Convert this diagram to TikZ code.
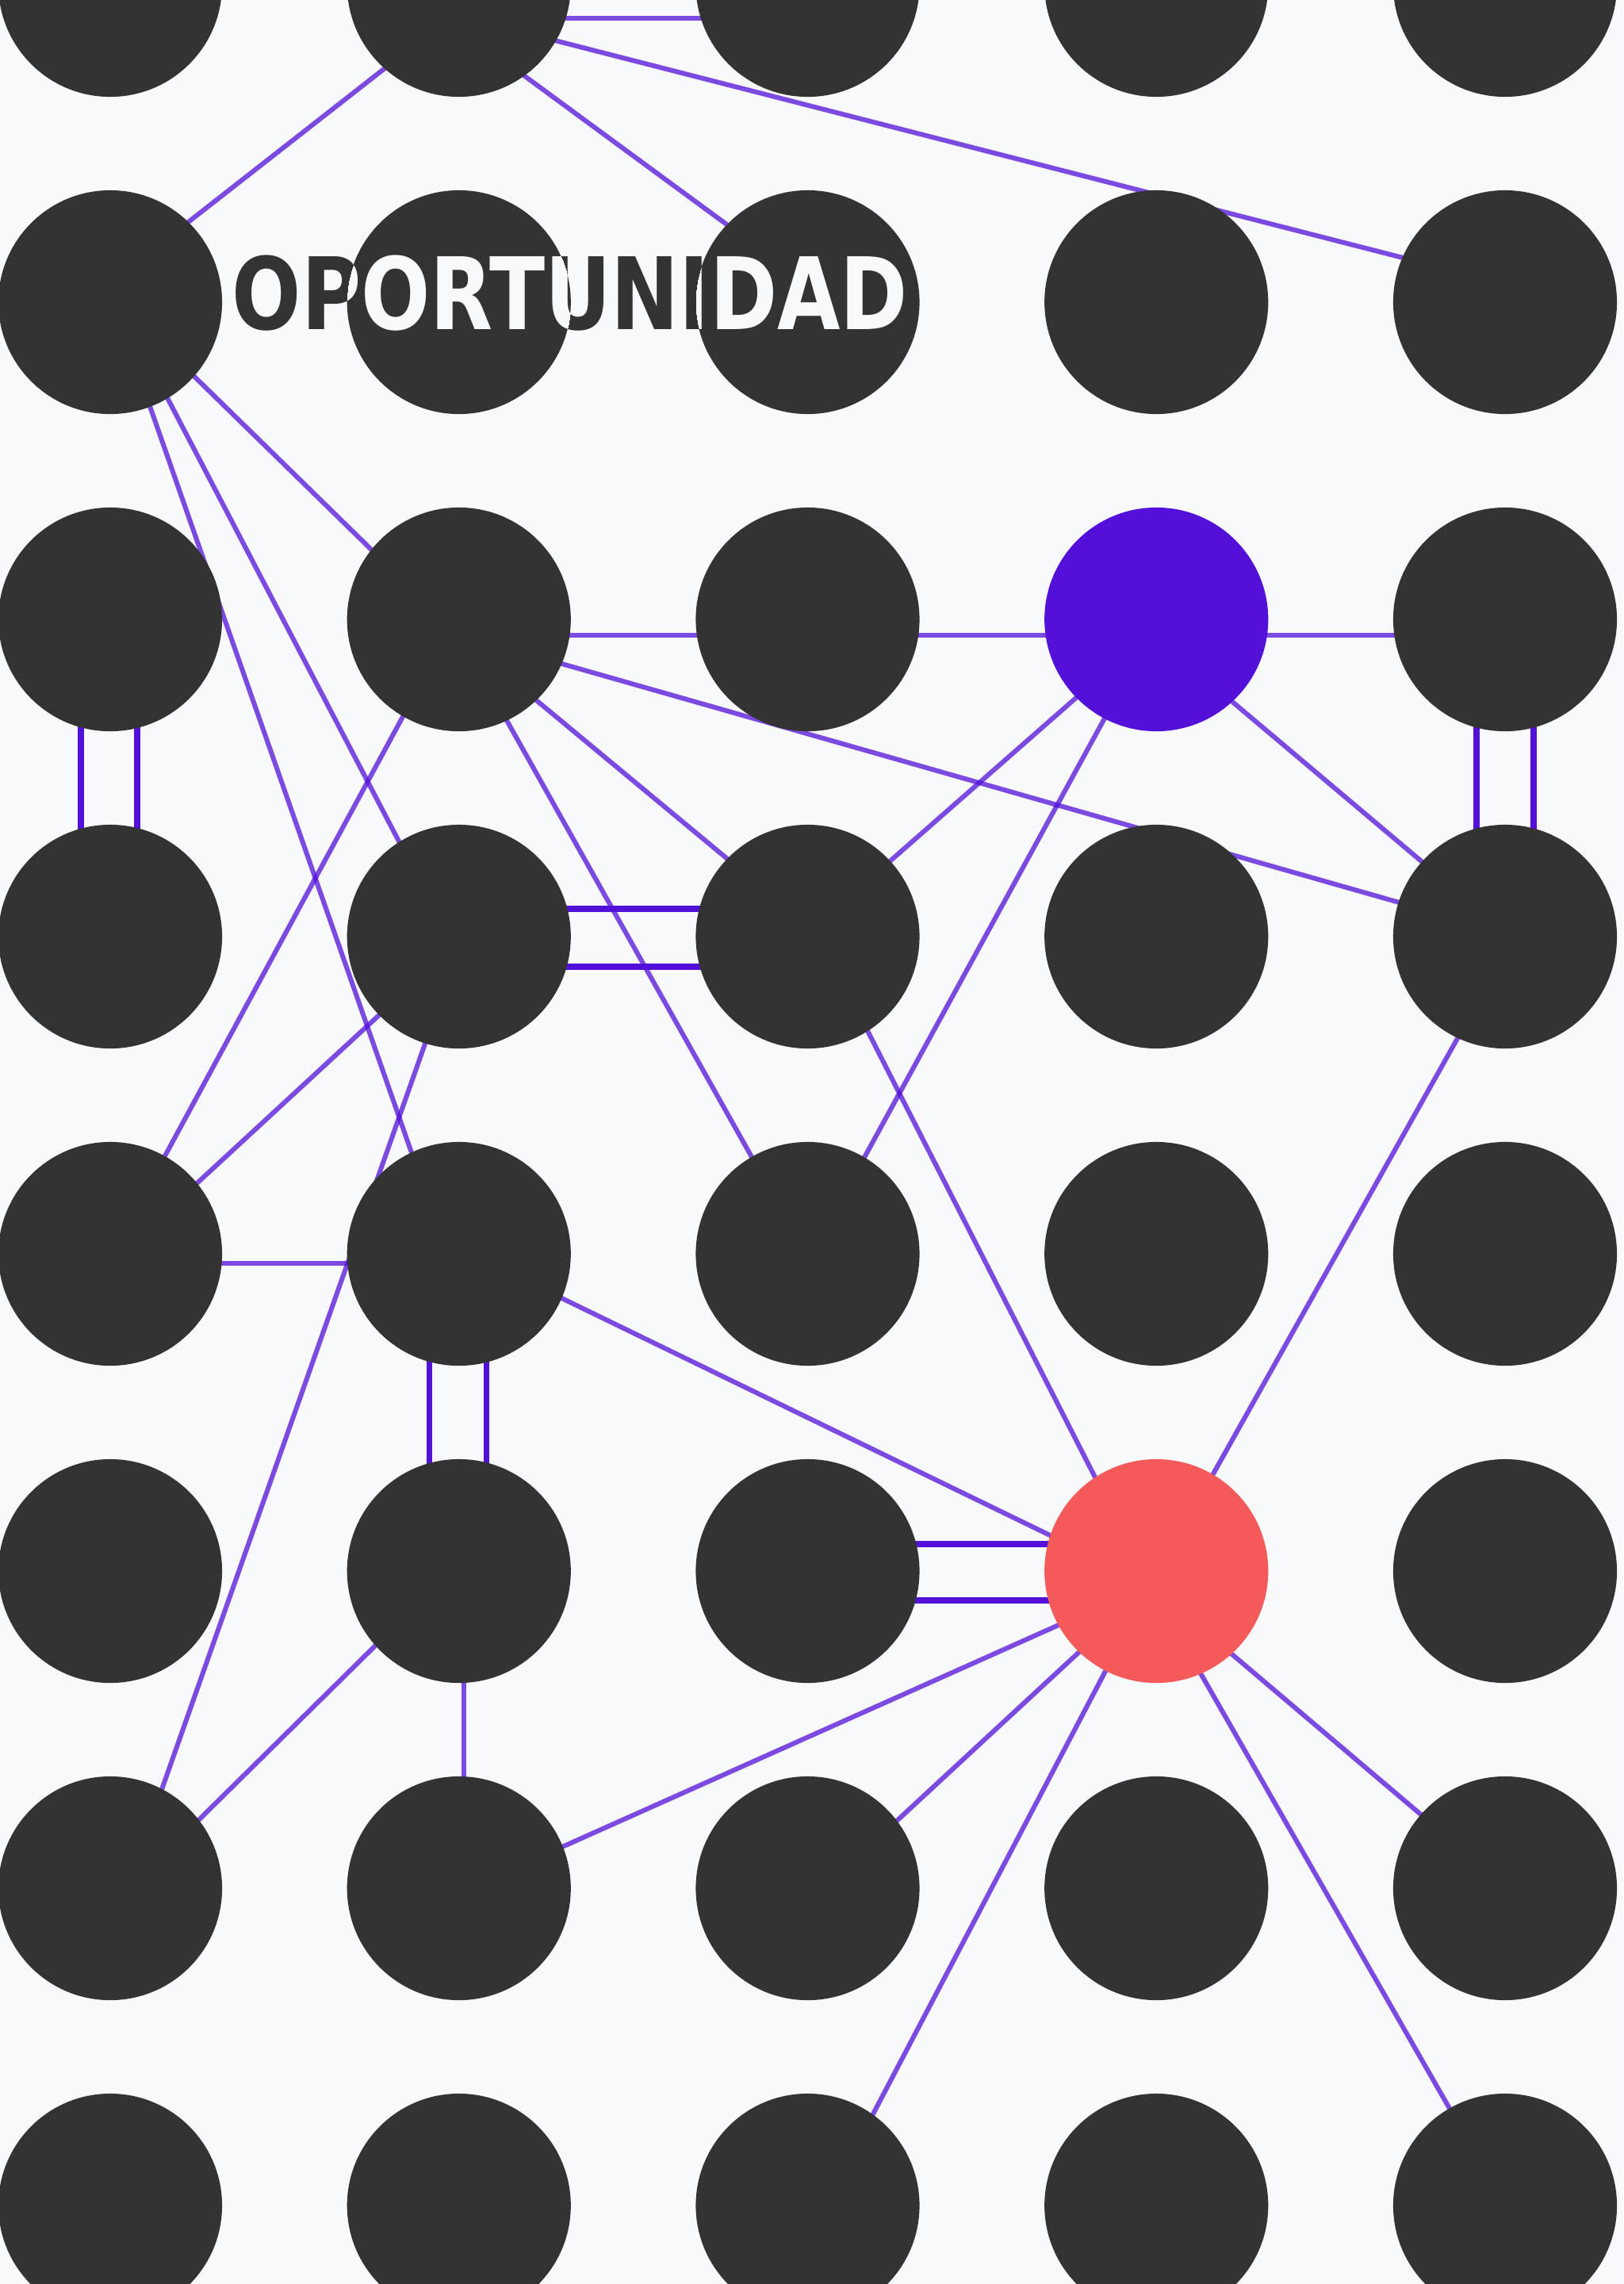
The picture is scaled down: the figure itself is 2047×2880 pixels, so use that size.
\documentclass[tikz,border=0pt]{standalone}
\usepackage{fontspec}
\newfontfamily\titlefont{DejaVu Sans}[FakeStretch=0.815]
\usetikzlibrary{calc}
\definecolor{bgcol}{HTML}{F8F9FA}
\definecolor{dotcol}{HTML}{333333}
\definecolor{linecol}{HTML}{5210D9}
\definecolor{accentblue}{HTML}{5210D9}
\definecolor{accentred}{HTML}{F55A5A}
\pgfdeclarelayer{bg}
\pgfsetlayers{bg,main}
\newcommand\edgeline[5][edge]{\draw[#1] ($(#2)+(#3)$) -- ($(#4)+(#5)$);}
\begin{document}
\begin{tikzpicture}[x=0.01cm,y=-0.01cm,
  dot/.style={circle,minimum size=2.82cm,inner sep=0pt,outer sep=0pt,fill=dotcol,draw=none},
  col23/.style={fill=accentblue},
  col53/.style={fill=accentred},
  edge/.style={draw=linecol,draw opacity=0.75,line width=0.06cm},
  dbl/.style={draw=linecol,line width=0.074cm},
  title/.style={font=\titlefont\bfseries\fontsize{35.85pt}{36pt}\selectfont,anchor=base,inner sep=0pt,outer sep=0pt}]
\useasboundingbox (0,0) rectangle (2047,2880);
\clip (0,0) rectangle (2047,2880);
% nodes
\foreach \rr in {0,...,7}{
  \foreach \cc in {0,...,4}{
    \node[dot,col\rr\cc/.try] (n\rr\cc) at ({139+439.75*\cc},{-19+400*\rr}) {};
  }
}
\begin{pgfonlayer}{bg}
\fill[bgcol] (0,0) rectangle (2047,2880);
% single edges
\edgeline{n01}{0,42}{n02}{0,42}
\edgeline{n01}{0,39}{n14}{0,-23}
\edgeline{n01}{0,32}{n10}{0,-24}
\edgeline{n01}{0,54}{n12}{0,-23}
\edgeline{n10}{0,-10}{n21}{0,20}
\edgeline{n10}{9,0}{n31}{-13,0}
\edgeline{n10}{4,0}{n41}{-15,0}
\edgeline{n21}{0,20}{n22}{0,20}
\edgeline{n21}{0,19}{n34}{0,-5}
\edgeline{n21}{0,21}{n32}{0,-14}
\edgeline{n21}{0,20}{n42}{-2,0}
\edgeline{n21}{0,-8}{n40}{0,4}
\edgeline{n22}{0,20}{n23}{0,20}
\edgeline{n23}{0,20}{n24}{0,20}
\edgeline{n23}{0,10}{n32}{0,-4}
\edgeline{n23}{3,0}{n42}{5,0}
\edgeline{n23}{0,23}{n34}{0,-6}
\edgeline{n32}{15,0}{n53}{-17,0}
\edgeline{n34}{12,0}{n53}{3,0}
\edgeline{n31}{0,6}{n40}{0,12}
\edgeline{n31}{5,0}{n60}{21,0}
\edgeline{n40}{0,12}{n41}{0,12}
\edgeline{n41}{0,-7}{n53}{0,20}
\edgeline{n51}{0,-10}{n60}{0,24}
\edgeline{n51}{6,0}{n61}{6,0}
\edgeline{n53}{0,13}{n61}{0,6}
\edgeline{n53}{0,12}{n62}{0,19}
\edgeline{n53}{2,0}{n72}{22,0}
\edgeline{n53}{0,24}{n64}{0,-3}
\edgeline{n53}{-18,0}{n74}{0,0}
% double edges
\edgeline[dbl]{n20}{-37,0}{n30}{-37,0}
\edgeline[dbl]{n20}{34,0}{n30}{34,0}
\edgeline[dbl]{n24}{-36,0}{n34}{-36,0}
\edgeline[dbl]{n24}{36,0}{n34}{36,0}
\edgeline[dbl]{n31}{0,-35}{n32}{0,-35}
\edgeline[dbl]{n31}{0,38}{n32}{0,38}
\edgeline[dbl]{n41}{-37,0}{n51}{-37,0}
\edgeline[dbl]{n41}{35,0}{n51}{35,0}
\edgeline[dbl]{n52}{0,-34}{n53}{0,-34}
\edgeline[dbl]{n52}{0,37}{n53}{0,37}
\end{pgfonlayer}
% title with inverted colour over the dots
\node[title,text=dotcol] (title) at (719,415) {OPORTUNIDAD};
\begin{scope}
\clip (n10) circle[radius=1.41cm] (n11) circle[radius=1.41cm] (n12) circle[radius=1.41cm];
\node[title,text=bgcol] (titlelight) at (719,415) {OPORTUNIDAD};
\end{scope}
\end{tikzpicture}
\end{document}
